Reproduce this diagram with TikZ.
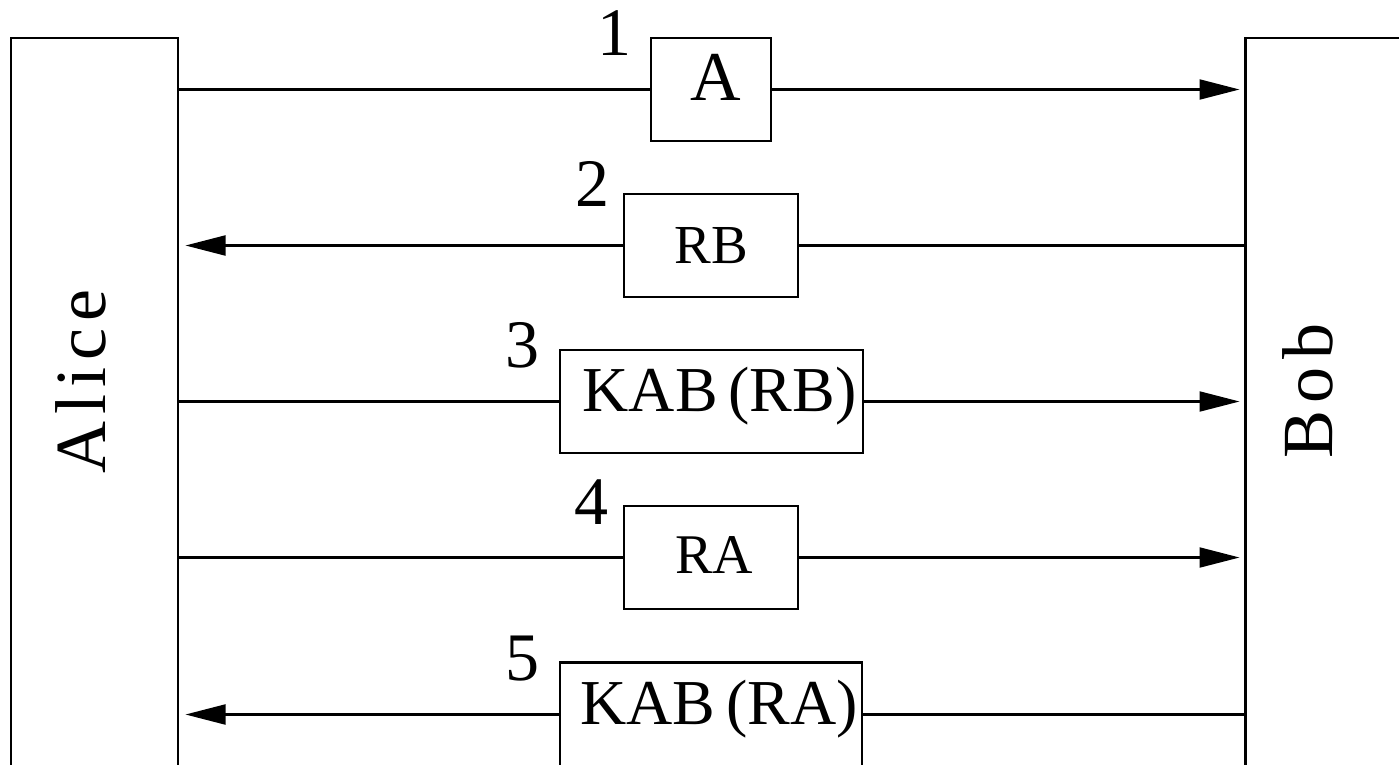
\documentclass[tikz,border=0pt]{standalone}
\usepackage{fontspec}
\setmainfont{Liberation Serif}
\newfontfamily\spaced[LetterSpace=10]{Liberation Serif}
\usetikzlibrary{arrows.meta}
\begin{document}
\begin{tikzpicture}[x=1pt,y=-1pt,
  ln/.style={line width=2.1pt},
  party/.style={draw, ln, rectangle, inner sep=0pt, outer sep=0pt, anchor=north west, minimum height=800pt},
  msg/.style={draw, ln, rectangle, inner sep=0pt, outer sep=0pt, minimum height=103pt},
  num/.style={inner sep=0pt, font=\fontsize{68}{68}\selectfont},
  who/.style={inner sep=0pt, rotate=90, anchor=base, font=\spaced\fontsize{72}{72}\selectfont},
  arr/.style={ln, -{Triangle[length=40pt,width=20pt]}}]
\useasboundingbox (0,0) rectangle (1399,765);
\clip (0,0) rectangle (1399,765);
% parties
\node[party, minimum width=167pt] (alice) at (11,38) {};
\node[party, minimum width=300pt] (bob) at (1245.5,38) {};
\node[who] (alicetxt) at (105,381.5) {Alice};
\node[who] (bobtxt) at (1332,391) {Bob};
% messages
\node[msg, minimum width=120pt,
  label={[inner sep=0pt, font=\fontsize{70}{70}\selectfont, yshift=12pt, xshift=5pt]center:A}] (m1) at (711,89.5) {};
\node[msg, minimum width=174pt,
  label={[inner sep=0pt, font=\fontsize{55}{55}\selectfont]center:RB}] (m2) at (711,245.5) {};
\node[msg, minimum width=303pt,
  label={[inner sep=0pt, font=\fontsize{64}{64}\selectfont, yshift=5pt, xshift=8pt]center:KAB\,(RB)}] (m3) at (711.5,401.5) {};
\node[msg, minimum width=174pt,
  label={[inner sep=0pt, font=\fontsize{56}{56}\selectfont, yshift=2pt, xshift=3pt]center:RA}] (m4) at (711,557.5) {};
\node[msg, minimum width=302pt, minimum height=104pt,
  label={[inner sep=0pt, font=\fontsize{64}{64}\selectfont, yshift=5pt, xshift=8pt]center:KAB\,(RA)}] (m5) at (711,714.5) {};
% step numbers
\node[num] (n1) at (614,33) {1};
\node[num] (n2) at (592,184) {2};
\node[num] (n3) at (522,345) {3};
\node[num] (n4) at (591,502) {4};
\node[num] (n5) at (522,659) {5};
% connectors
\draw[ln] (alice.east |- m1.west) -- (m1.west);
\draw[arr, shorten >=6pt] (m1.east) -- (bob.west |- m1.east);
\draw[ln] (bob.west |- m2.east) -- (m2.east);
\draw[arr, shorten >=7.5pt] (m2.west) -- (alice.east |- m2.west);
\draw[ln] (alice.east |- m3.west) -- (m3.west);
\draw[arr, shorten >=6pt] (m3.east) -- (bob.west |- m3.east);
\draw[ln] (alice.east |- m4.west) -- (m4.west);
\draw[arr, shorten >=6pt] (m4.east) -- (bob.west |- m4.east);
\draw[ln] (bob.west |- m5.east) -- (m5.east);
\draw[arr, shorten >=7.5pt] (m5.west) -- (alice.east |- m5.west);
\end{tikzpicture}
\end{document}
